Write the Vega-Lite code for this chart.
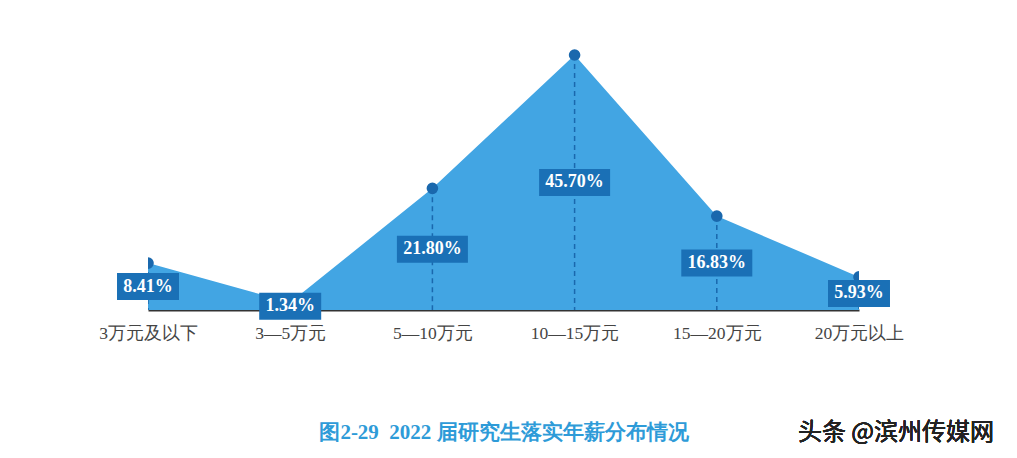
{
  "$schema": "https://vega.github.io/schema/vega-lite/v6.json",
  "autosize": {"type": "none"},
  "width": 711,
  "height": 279,
  "padding": {"left": 148, "top": 31, "right": 158, "bottom": 148},
  "background": "white",
  "config": {
    "view": {"stroke": null},
    "axis": {"grid": false}
  },
  "data": {
    "values": [
      {"range": "3万元及以下", "value": 8.41, "label": "8.41%"},
      {"range": "3—5万元", "value": 1.34, "label": "1.34%"},
      {"range": "5—10万元", "value": 21.8, "label": "21.80%"},
      {"range": "10—15万元", "value": 45.7, "label": "45.70%"},
      {"range": "15—20万元", "value": 16.83, "label": "16.83%"},
      {"range": "20万元以上", "value": 5.93, "label": "5.93%"}
    ]
  },
  "encoding": {
    "x": {
      "field": "range",
      "type": "ordinal",
      "sort": null,
      "scale": {"type": "point", "padding": 0},
      "axis": {
        "title": "图2-29\u00a0\u00a02022 届研究生落实年薪分布情况",
        "titleColor": "#2e9bd8",
        "titleFont": "Liberation Serif",
        "titleFontSize": 21,
        "titleFontWeight": "bold",
        "titlePadding": 80,
        "ticks": false,
        "domainColor": "#333333",
        "domainWidth": 2,
        "labelAngle": 0,
        "labelFont": "Liberation Serif",
        "labelFontSize": 17.5,
        "labelColor": "#444444",
        "labelPadding": 14
      }
    }
  },
  "layer": [
    {
      "mark": {"type": "area", "color": "#42a5e3", "opacity": 1},
      "encoding": {
        "y": {"field": "value", "type": "quantitative", "scale": {"domain": [0, 50]}, "axis": null}
      }
    },
    {
      "mark": {"type": "rule", "color": "#1a68ad", "strokeDash": [5, 4], "strokeWidth": 1.5, "clip": true},
      "encoding": {
        "y": {"field": "value", "type": "quantitative", "scale": {"domain": [0, 50]}, "axis": null},
        "y2": {"datum": 0}
      }
    },
    {
      "mark": {"type": "circle", "color": "#1a68ad", "opacity": 1, "size": 135, "clip": true},
      "encoding": {
        "y": {"field": "value", "type": "quantitative", "scale": {"domain": [0, 50]}, "axis": null}
      }
    },
    {
      "mark": {"type": "point", "filled": true, "color": "#1a70b6", "opacity": 1, "size": 5041},
      "encoding": {
        "y": {"field": "value", "type": "quantitative", "scale": {"domain": [0, 100]}, "axis": null},
        "shape": {
          "condition": {"test": "datum.value >= 10", "value": "M-1,-0.38L1,-0.38L1,0.38L-1,0.38Z"},
          "value": "M-0.873,-0.38L0.873,-0.38L0.873,0.38L-0.873,0.38Z"
        }
      }
    },
    {
      "mark": {"type": "text", "color": "white", "font": "Liberation Serif", "fontSize": 18, "fontWeight": "bold", "baseline": "middle", "align": "center"},
      "encoding": {
        "y": {"field": "value", "type": "quantitative", "scale": {"domain": [0, 100]}, "axis": null},
        "text": {"field": "label", "type": "nominal"}
      }
    },
    {
      "mark": {"type": "text", "color": "#222222", "font": "Noto Sans CJK SC", "fontSize": 24, "baseline": "middle", "align": "center", "dx": 37, "text": "头条 @滨州传媒网"},
      "encoding": {
        "x": {"datum": "20万元以上"},
        "y": {"datum": -22, "type": "quantitative", "scale": {"domain": [0, 50]}, "axis": null}
      }
    }
  ],
  "resolve": {"scale": {"y": "independent"}}
}
